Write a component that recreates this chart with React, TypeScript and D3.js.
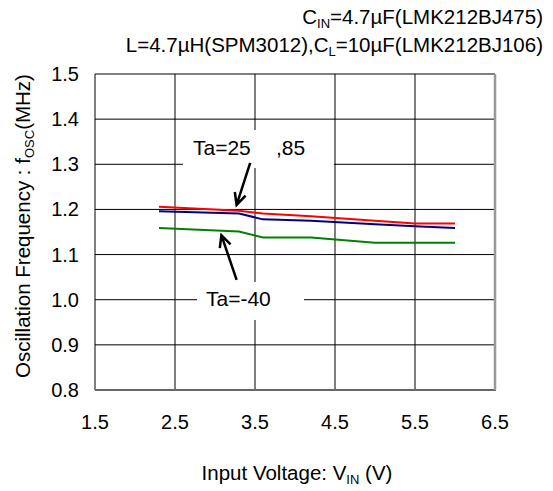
import React from "react";
import * as d3 from "d3";

const voltages = [2.3, 3.3, 3.6, 4.2, 5.0, 5.5, 6.0];
const ta85 = [1.206, 1.197, 1.191, 1.185, 1.175, 1.169, 1.169];
const ta25 = [1.196, 1.191, 1.178, 1.175, 1.167, 1.163, 1.159];
const taM40 = [1.159, 1.151, 1.138, 1.138, 1.126, 1.126, 1.126];
const xTicks = [1.5, 2.5, 3.5, 4.5, 5.5, 6.5];
const yTicks = [0.8, 0.9, 1.0, 1.1, 1.2, 1.3, 1.4, 1.5];

const W = 553;
const H = 491;
const left = 95, right = 495, top = 74, bottom = 390;
const FONT = "Liberation Sans, Arial, sans-serif";

export default function App() {
  const x = d3.scaleLinear().domain([1.5, 6.5]).range([left, right]);
  const y = d3.scaleLinear().domain([0.8, 1.5]).range([bottom, top]);
  const line = d3
    .line<number>()
    .x((_, i) => x(voltages[i]))
    .y((d) => y(d));
  const series = [
    { vals: taM40, color: "#008000" },
    { vals: ta25, color: "#000080" },
    { vals: ta85, color: "#ff0000" },
  ];

  const arrow = (x1: number, y1: number, x2: number, y2: number, key: string) => {
    const X1 = x(x1), Y1 = y(y1), X2 = x(x2), Y2 = y(y2);
    const ang = Math.atan2(Y2 - Y1, X2 - X1);
    const len = 13, spread = 0.45;
    const a1 = ang + Math.PI - spread, a2 = ang + Math.PI + spread;
    const d = `M${X1},${Y1}L${X2},${Y2}M${X2 + len * Math.cos(a1)},${Y2 + len * Math.sin(a1)}L${X2},${Y2}L${X2 + len * Math.cos(a2)},${Y2 + len * Math.sin(a2)}`;
    return <path key={key} d={d} fill="none" stroke="#000" strokeWidth={2.5} strokeLinejoin="miter" />;
  };

  return (
    <svg width={W} height={H} style={{ position: "absolute", left: 0, top: 0, background: "#fff" }} fontFamily={FONT}>
      <rect width={W} height={H} fill="#fff" />
      {/* titles */}
      <text x={543} y={24} fontSize={20.5} textAnchor="end">
        C<tspan fontSize={13} dy={4}>IN</tspan><tspan dy={-4}>=4.7µF(LMK212BJ475)</tspan>
      </text>
      <text x={543} y={52} fontSize={20.5} textAnchor="end">
        L=4.7µH(SPM3012),C<tspan fontSize={13} dy={4}>L</tspan><tspan dy={-4}>=10µF(LMK212BJ106)</tspan>
      </text>
      {/* grid */}
      {xTicks.slice(1, -1).map((t) => (
        <line key={"gx" + t} x1={x(t)} x2={x(t)} y1={top} y2={bottom} stroke="#000" strokeWidth={1} />
      ))}
      {yTicks.slice(1, -1).map((t) => (
        <line key={"gy" + t} x1={left} x2={right} y1={y(t)} y2={y(t)} stroke="#000" strokeWidth={1} />
      ))}
      {/* annotation boxes */}
      <rect x={183} y={130} width={151} height={38} fill="#fff" />
      <rect x={197} y={282} width={107} height={38} fill="#fff" />
      {/* frame */}
      <line x1={left} x2={right} y1={top} y2={top} stroke="#000" strokeWidth={1} />
      <line x1={left} x2={left} y1={top} y2={bottom} stroke="#000" strokeWidth={1} />
      <line x1={left} x2={right + 1} y1={bottom} y2={bottom} stroke="#666" strokeWidth={2} />
      <line x1={right} x2={right} y1={top} y2={bottom} stroke="#999" strokeWidth={2.5} />
      {/* data */}
      {series.map((s, i) => (
        <path key={i} d={line(s.vals) || ""} fill="none" stroke={s.color} strokeWidth={2} />
      ))}
      {/* annotations */}
      <text x={193} y={155} fontSize={21}>Ta=25</text>
      <text x={276} y={155} fontSize={21}>,85</text>
      <text x={206} y={306} fontSize={21}>Ta=-40</text>
      {arrow(3.44, 1.303, 3.27, 1.21, "a1")}
      {arrow(3.27, 1.044, 3.08, 1.143, "a2")}
      {/* tick labels */}
      {yTicks.map((t) => (
        <text key={"yl" + t} x={79} y={y(t) + 7} fontSize={20} textAnchor="end">
          {t.toFixed(1)}
        </text>
      ))}
      {xTicks.map((t) => (
        <text key={"xl" + t} x={x(t)} y={429} fontSize={20} textAnchor="middle">
          {t.toFixed(1)}
        </text>
      ))}
      {/* axis titles */}
      <text x={297} y={480} fontSize={20.5} textAnchor="middle">
        Input Voltage: V<tspan fontSize={13} dy={4}>IN</tspan><tspan dy={-4}> (V)</tspan>
      </text>
      <text transform={`translate(30,${(top + bottom) / 2 - 6}) rotate(-90)`} fontSize={20.5} textAnchor="middle">
        Oscillation Frequency : f<tspan fontSize={13} dy={4}>OSC</tspan><tspan dy={-4}>(MHz)</tspan>
      </text>
    </svg>
  );
}
